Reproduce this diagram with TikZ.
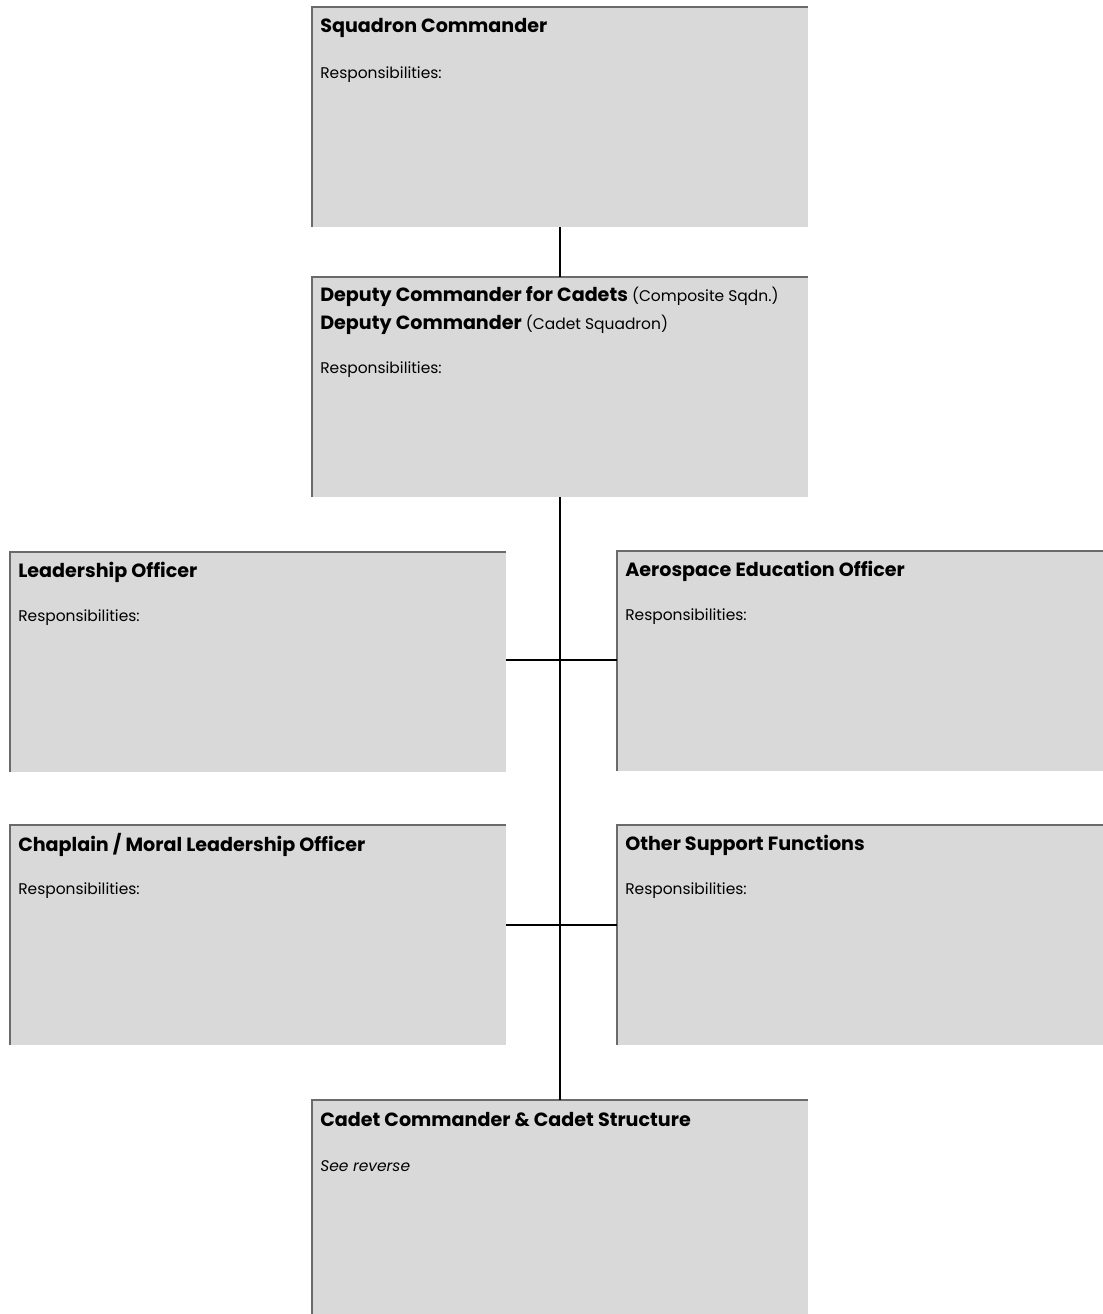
\documentclass[tikz,border=0pt]{standalone}
\usepackage{fontspec}
\setmainfont{Poppins}
\usetikzlibrary{positioning,calc}
\definecolor{dutygray}{HTML}{D9D9D9}
\definecolor{rimgray}{HTML}{6A6A6A}
\newcommand{\paren}[1]{{\mdseries\fontsize{11}{13}\selectfont #1}}

\begin{document}
\begin{tikzpicture}[x=0.025cm,y=-0.025cm,node distance=1.25cm]
        \tikzset{duty/.style={fill=dutygray,anchor=north west,minimum width=12.4cm,minimum height=5.5cm,inner sep=0pt,outer sep=0pt},
          head/.style={anchor=west,inner sep=0pt,font=\bfseries\fontsize{13.6}{17}\selectfont},
          resp/.style={anchor=west,inner sep=0pt,font=\fontsize{11}{13}\selectfont},
          rim/.style={rimgray,line width=.9pt},
          wire/.style={black,line width=1.4pt}}
        \useasboundingbox (0,0) rectangle (1103,1314);
        \node[duty] (sqcmd) at (312,7) {};
        \node[duty] (deputy) at (312,277) {};
        \node[duty] (lead) at (10,552) {};
        \node[duty,minimum width=12.15cm] (aero) at (617,551) {};
        \node[duty] (chap) at (10,825) {};
        \node[duty,minimum width=12.15cm] (other) at (617,825) {};
        \node[duty,minimum height=5.35cm] (cadet) at (312,1100) {};
        \foreach \b in {sqcmd,deputy,lead,aero,chap,other,cadet}
          \draw[rim] (\b.south west) -- (\b.north west) -- (\b.north east);
        % titles and notes
        \node[head] (sqcmdT) at ($(sqcmd.north west)+(8,21)$) {Squadron Commander};
        \node[resp] (sqcmdR) at ($(sqcmd.north west)+(8,68)$) {Responsibilities:};
        \node[head] (deputyT) at ($(deputy.north west)+(8,20)$) {Deputy Commander for Cadets \paren{(Composite Sqdn.)}};
        \node[head] (deputyU) at ($(deputy.north west)+(8,48)$) {Deputy Commander \paren{(Cadet Squadron)}};
        \node[resp] (deputyR) at ($(deputy.north west)+(8,93)$) {Responsibilities:};
        \node[head] (leadT) at ($(lead.north west)+(8,20)$) {Leadership Officer};
        \node[resp] (leadR) at ($(lead.north west)+(8,66)$) {Responsibilities:};
        \node[head] (aeroT) at ($(aero.north west)+(8,20)$) {Aerospace Education Officer};
        \node[resp] (aeroR) at ($(aero.north west)+(8,66)$) {Responsibilities:};
        \node[head] (chapT) at ($(chap.north west)+(8,20)$) {Chaplain / Moral Leadership Officer};
        \node[resp] (chapR) at ($(chap.north west)+(8,66)$) {Responsibilities:};
        \node[head] (otherT) at ($(other.north west)+(8,20)$) {Other Support Functions};
        \node[resp] (otherR) at ($(other.north west)+(8,66)$) {Responsibilities:};
        \node[head] (cadetT) at ($(cadet.north west)+(8,20)$) {Cadet Commander \& Cadet Structure};
        \node[resp,font=\itshape\fontsize{11}{13}\selectfont] (cadetR) at ($(cadet.north west)+(8,66)$) {See reverse};
        % chain of command
        \draw[wire] (sqcmd.south) -- (deputy.north);
        \draw[wire] (deputy.south) -- (cadet.north);
        \draw[wire] ([yshift=.05cm]lead.east) -- ([yshift=.05cm]lead.east -| aero.west);
        \draw[wire] ([yshift=.25cm]chap.east) -- ([yshift=.25cm]chap.east -| other.west);
      \end{tikzpicture}
\end{document}
